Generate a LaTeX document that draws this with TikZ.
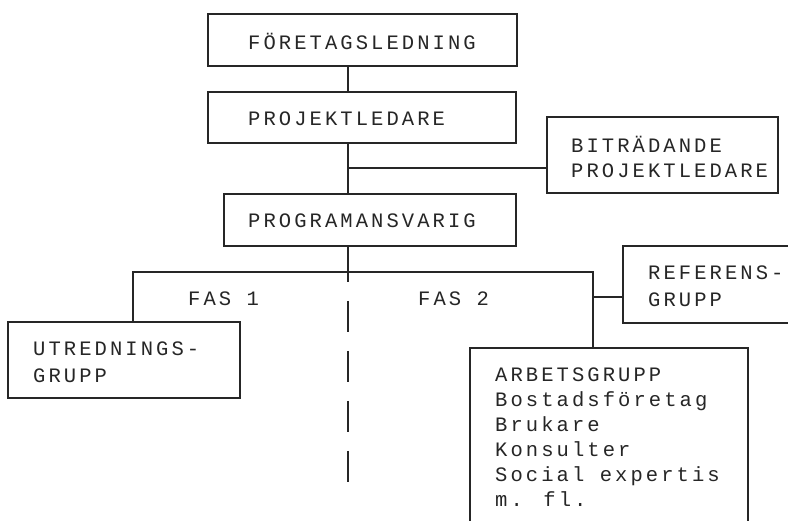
\documentclass[tikz,border=0pt]{standalone}
\usepackage{fontspec}
\newfontfamily\typewriter[LetterSpace=15]{Liberation Mono}
\begin{document}
\begin{tikzpicture}[x=1pt,y=-1pt,
  ink/.style={draw=black!85},
  box/.style={ink, line width=1.5pt, rectangle, inner sep=0pt},
  lbl/.style={font=\typewriter\fontsize{20.5}{#1}\selectfont, text=black!85,
              inner sep=0pt, anchor=west, align=left},
  lbl/.default=25,
  wire/.style={ink, line width=1.5pt}]

\useasboundingbox[fill=white] (0,0) rectangle (788,521);
\clip (0,0) rectangle (788,521);

% boxes
\node[box, minimum width=309pt, minimum height=52pt] (fl) at (362.5,40) {};
\node[box, minimum width=308pt, minimum height=51pt] (pl) at (362,117.5) {};
\node[box, minimum width=292pt, minimum height=52pt] (pa) at (370,220) {};
\node[box, minimum width=231pt, minimum height=76pt] (bp) at (662.5,155) {};
\node[box, minimum width=232pt, minimum height=76pt] (ug) at (124,360) {};
\node[box, minimum width=200pt, minimum height=77pt] (rg) at (723,284.5) {};
\node[box, minimum width=278pt, minimum height=220pt] (ag) at (609,458) {};

% texts
\node[lbl] (tfl) at (248,41) {FÖRETAGSLEDNING};
\node[lbl] (tpl) at (248,118.5) {PROJEKTLEDARE};
\node[lbl] (tpa) at (248,221) {PROGRAMANSVARIG};
\node[lbl] (tbp) at (571,157) {BITRÄDANDE\\PROJEKTLEDARE};
\node[lbl=26.5] (tug) at (33,362) {UTREDNINGS-\\GRUPP};
\node[lbl=27] (trg) at (648,286) {REFERENS-\\GRUPP};
\node[lbl] (tag) at (495,437.5) {ARBETSGRUPP\\Bostadsföretag\\Brukare\\Konsulter\\Social expertis\\m. fl.};
\node[lbl] (f1) at (188,299) {FAS 1};
\node[lbl] (f2) at (418,299) {FAS 2};

% junction points
\coordinate (spine) at (348,0);
\coordinate (jb) at (348,168);
\coordinate (jm) at (348,272);
\coordinate (jl) at (133,272);
\coordinate (jr) at (593,272);
\coordinate (jref) at (593,297);
\coordinate (dend) at (348,482);

% connectors
\draw[wire] (fl.south -| spine) -- (pl.north -| spine);
\draw[wire] (pl.south -| spine) -- (pa.north -| spine);
\draw[wire] (jb) -- (jb -| bp.west);
\draw[wire] (pa.south -| spine) -- (jm);
\draw[wire] (ug.north -| jl) -- (jl) -- (jr) -- (ag.north -| jr);
\draw[wire] (jref) -- (jref -| rg.west);
\draw[wire, dash pattern=on 31pt off 19pt, dash phase=21pt] (jm) -- (dend);
\end{tikzpicture}
\end{document}
